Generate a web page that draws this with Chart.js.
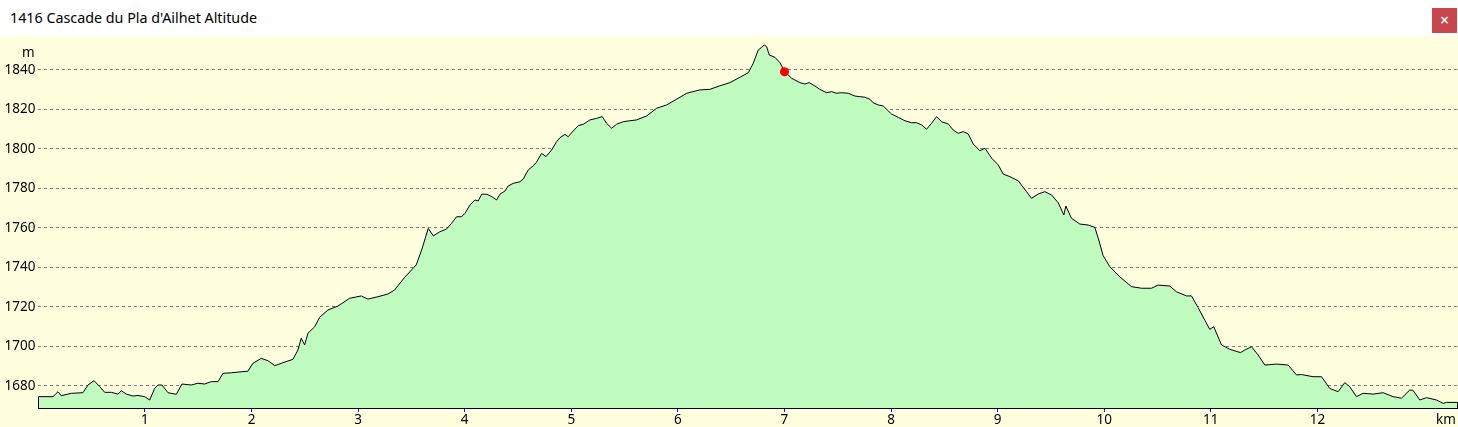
<!DOCTYPE html>
<html>
<head>
<meta charset="utf-8">
<script src="https://cdn.jsdelivr.net/npm/chart.js@4.4.1/dist/chart.umd.min.js"></script>
<style>
  html, body { margin: 0; padding: 0; background: #ffffff; overflow: hidden; }
  #bar { position: absolute; left: 0; top: 0; width: 1458px; height: 36px; background: #ffffff; }
  #title { position: absolute; left: 10px; top: 8px; font: 14.3px "Noto Sans", "Open Sans", sans-serif; color: #000; white-space: nowrap; }
  #close { position: absolute; left: 1432px; top: 8px; width: 25px; height: 25px; background: #c8474c; color: #fff;
           font: bold 12px "DejaVu Sans", sans-serif; text-align: center; line-height: 25px; }
  #wrap { position: absolute; left: 0; top: 36px; width: 1458px; height: 391px; background: #ffffe0; }
  canvas { display: block; }
</style>
</head>
<body>
<div id="bar"><div id="title">1416 Cascade du Pla d'Ailhet Altitude</div><div id="close">×</div></div>
<div id="wrap"><canvas id="c" width="1458" height="391"></canvas></div>
<script>
// ---- data ----
const distKm = [0, 0.137, 0.184, 0.215, 0.309, 0.418, 0.465, 0.522, 0.575, 0.622, 0.684, 0.747, 0.778, 0.825, 0.887, 0.934, 0.997, 1.044, 1.091, 1.122, 1.159, 1.216, 1.294, 1.347, 1.434, 1.497, 1.56, 1.622, 1.685, 1.732, 1.81, 1.903, 1.966, 2.013, 2.091, 2.154, 2.217, 2.295, 2.388, 2.435, 2.466, 2.498, 2.529, 2.592, 2.639, 2.717, 2.811, 2.92, 3.029, 3.092, 3.186, 3.28, 3.342, 3.436, 3.545, 3.596, 3.658, 3.705,
  3.767, 3.83, 3.877, 3.924, 3.971, 4.002, 4.049, 4.096, 4.127, 4.159, 4.205, 4.252, 4.299, 4.33, 4.377, 4.408, 4.455, 4.518, 4.549, 4.596, 4.643, 4.674, 4.721, 4.762, 4.815, 4.862, 4.893, 4.94, 4.971, 5.018, 5.065, 5.112, 5.174, 5.237, 5.29, 5.331, 5.378, 5.425, 5.487, 5.55, 5.612,
  5.706, 5.8, 5.894, 5.988, 6.082, 6.206, 6.3, 6.394, 6.488, 6.582, 6.66, 6.707, 6.754, 6.786, 6.81, 6.833, 6.857, 6.911, 6.957, 7.004, 7.067,
  7.145, 7.192, 7.232, 7.285, 7.332, 7.395, 7.442, 7.489, 7.536, 7.598, 7.66, 7.707, 7.754, 7.801, 7.832, 7.879, 7.926, 7.958, 8.005, 8.067, 8.13, 8.192, 8.239, 8.286, 8.333, 8.38, 8.427, 8.474, 8.536, 8.583, 8.63, 8.677, 8.724, 8.771, 8.834, 8.881, 8.944, 9.006,
  9.052, 9.115, 9.193, 9.271, 9.318, 9.38, 9.443, 9.506, 9.568, 9.621, 9.64, 9.693, 9.771, 9.849, 9.912, 9.943, 9.99, 10.053, 10.146, 10.256, 10.35, 10.444, 10.506, 10.615, 10.678, 10.772, 10.819, 10.88, 10.943, 10.99, 11.028, 11.1, 11.178, 11.279, 11.319, 11.382, 11.444, 11.507, 11.616, 11.726, 11.804, 11.851, 11.96, 12.039, 12.116, 12.194, 12.257, 12.304, 12.367, 12.429, 12.523, 12.617, 12.71, 12.789, 12.867, 12.898, 12.961, 13.024, 13.118, 13.18, 13.212, 13.31];
const altM = [1674.6, 1674.6, 1677.1, 1675.1, 1676.3, 1676.6, 1680.5, 1682.7, 1679.7, 1676.8, 1676.8, 1675.9, 1677.6, 1675.9, 1674.9, 1675.2, 1674.6, 1672.9, 1678.8, 1680.5, 1680.5, 1676.6, 1675.8, 1681, 1680.5, 1681.4, 1681, 1682.2, 1682.2, 1686.4, 1686.7, 1687.2, 1687.5, 1691.5, 1694, 1692.8, 1690.3, 1691.8, 1693.5, 1698.2, 1704.2, 1700.8, 1706.7, 1710, 1714.8, 1718.5, 1720.5, 1724.4, 1725.6, 1724, 1725.2, 1726.6, 1728.6, 1735, 1741.3, 1748.9, 1759.8, 1756,
  1758.1, 1759.5, 1762.4, 1765.7, 1765.7, 1767.4, 1771.6, 1774.2, 1773.7, 1777.1, 1777.1, 1775.9, 1774.2, 1777.1, 1778.7, 1781.3, 1782.6, 1783.4, 1784.8, 1789.4, 1791.5, 1793.3, 1797.8, 1796.1, 1799.5, 1803.7, 1805.7, 1807.4, 1806.2, 1809.1, 1811.8, 1812.5, 1814.7, 1815.5, 1816.4, 1813, 1810.5, 1812.5, 1813.8, 1814.3, 1814.7,
  1816.7, 1820.6, 1822.3, 1825.2, 1828.2, 1829.9, 1830.2, 1832, 1833.6, 1836.3, 1838.6, 1843.4, 1850.1, 1851.5, 1852.7, 1851.8, 1847.6, 1846.4, 1843.7, 1839.1, 1835.8,
  1833.6, 1832.9, 1833.6, 1831.9, 1830.2, 1828.5, 1829, 1828.2, 1828.5, 1828.2, 1826.8, 1826.5, 1826.2, 1825.2, 1823.4, 1822.3, 1821.8, 1820.1, 1817.7, 1816, 1814.3, 1813.3, 1813.3, 1812.2, 1810, 1813, 1816.4, 1813.8, 1812.7, 1809.6, 1807.9, 1808.8, 1807.6, 1802.5, 1799.1, 1800.4, 1795.3, 1791.9,
  1787.3, 1786, 1783.9, 1778.4, 1775, 1777.2, 1778.4, 1776.7, 1772.8, 1766.6, 1771.1, 1764.9, 1762, 1761.5, 1760.3, 1755, 1746, 1740.4, 1735.3, 1730.3, 1729.5, 1729.5, 1731.1, 1730.6, 1727.7, 1725.6, 1725.6, 1719.8, 1713.4, 1708.7, 1710, 1700.8, 1698.6, 1696.9, 1698.2, 1699.9, 1695.7, 1690.6, 1691.1, 1690.6, 1685.6, 1685.8, 1684.7, 1684.7, 1678.8, 1677.1, 1681.7, 1679.6, 1674.6, 1676.3, 1675.9, 1676.6, 1674.6, 1673.8, 1678, 1677.8, 1672.9, 1674.1, 1672.9, 1671.2, 1671.7, 1671.7];
const markerKm = [7.0];
const markerAlt = [1839.1];
const xTicks = [1, 2, 3, 4, 5, 6, 7, 8, 9, 10, 11, 12];
const yTicks = [1680, 1700, 1720, 1740, 1760, 1780, 1800, 1820, 1840];
const xUnit = 'km';
const yUnit = 'm';

const FONT = { family: '"Noto Sans", "Open Sans", sans-serif', size: 13.5 };

const profilePts = distKm.map((d, i) => ({ x: d, y: altM[i] }));
const markerPts = markerKm.map((d, i) => ({ x: d, y: markerAlt[i] }));

const edgePlugin = {
  id: 'edges',
  afterDatasetsDraw(chart) {
    const meta = chart.getDatasetMeta(1);
    const pts = meta.data;
    const ctx = chart.ctx;
    const bottom = chart.chartArea.bottom;
    ctx.save();
    ctx.strokeStyle = '#000';
    ctx.lineWidth = 1;
    [pts[0], pts[pts.length - 1]].forEach(p => {
      ctx.beginPath();
      ctx.moveTo(Math.round(p.x) + 0.5, p.y);
      ctx.lineTo(Math.round(p.x) + 0.5, bottom);
      ctx.stroke();
    });
    ctx.restore();
  },
  afterDraw(chart) {
    const ctx = chart.ctx;
    const ca = chart.chartArea;
    ctx.save();
    ctx.fillStyle = '#000';
    ctx.font = FONT.size + 'px ' + FONT.family;
    ctx.textBaseline = 'middle';
    ctx.textAlign = 'center';
    ctx.fillText(yUnit, ca.left - 10, ca.top + 17);
    ctx.fillText(xUnit, ca.right - 11, ca.bottom + 12);
    ctx.restore();
  }
};

new Chart(document.getElementById('c'), {
  type: 'scatter',
  data: {
    datasets: [
      {
        data: markerPts,
        showLine: false,
        pointRadius: 4.5,
        pointBackgroundColor: '#ff0000',
        pointBorderColor: '#ff0000',
        pointBorderWidth: 0,
        clip: false,
        order: 0
      },
      {
        data: profilePts,
        showLine: true,
        borderColor: '#000000',
        borderWidth: 1,
        backgroundColor: '#c0fcc0',
        fill: 'start',
        pointRadius: 0,
        tension: 0,
        order: 1
      }
    ]
  },
  options: {
    responsive: false,
    maintainAspectRatio: false,
    animation: false,
    devicePixelRatio: 1,
    layout: { autoPadding: false, padding: { left: 0, right: 1, top: 0, bottom: 0 } },
    plugins: { legend: { display: false }, tooltip: { enabled: false } },
    scales: {
      x: {
        type: 'linear',
        min: 0,
        max: 13.31,
        afterBuildTicks(s) { s.ticks = xTicks.map(v => ({ value: v })); },
        afterFit(s) { s.height = 19; s.paddingLeft = 0; s.paddingRight = 0; },
        grid: { drawOnChartArea: false, drawTicks: true, tickLength: 4, tickColor: '#1010ff', tickWidth: 1 },
        border: { display: true, color: '#000', width: 1 },
        ticks: { color: '#000', font: FONT, padding: 0, maxRotation: 0, autoSkip: false, callback: v => String(v) }
      },
      y: {
        type: 'linear',
        min: 1668.86,
        max: 1857.2,
        afterBuildTicks(s) { s.ticks = yTicks.map(v => ({ value: v })); },
        afterFit(s) { s.width = 38.4; s.paddingTop = 0; s.paddingBottom = 0; },
        grid: { color: '#808080', lineWidth: 1, drawTicks: false },
        border: { display: false, dash: [3, 3] },
        ticks: { color: '#000', font: FONT, padding: 3, autoSkip: false, callback: v => String(v) }
      }
    }
  },
  plugins: [edgePlugin]
});
</script>
</body>
</html>
